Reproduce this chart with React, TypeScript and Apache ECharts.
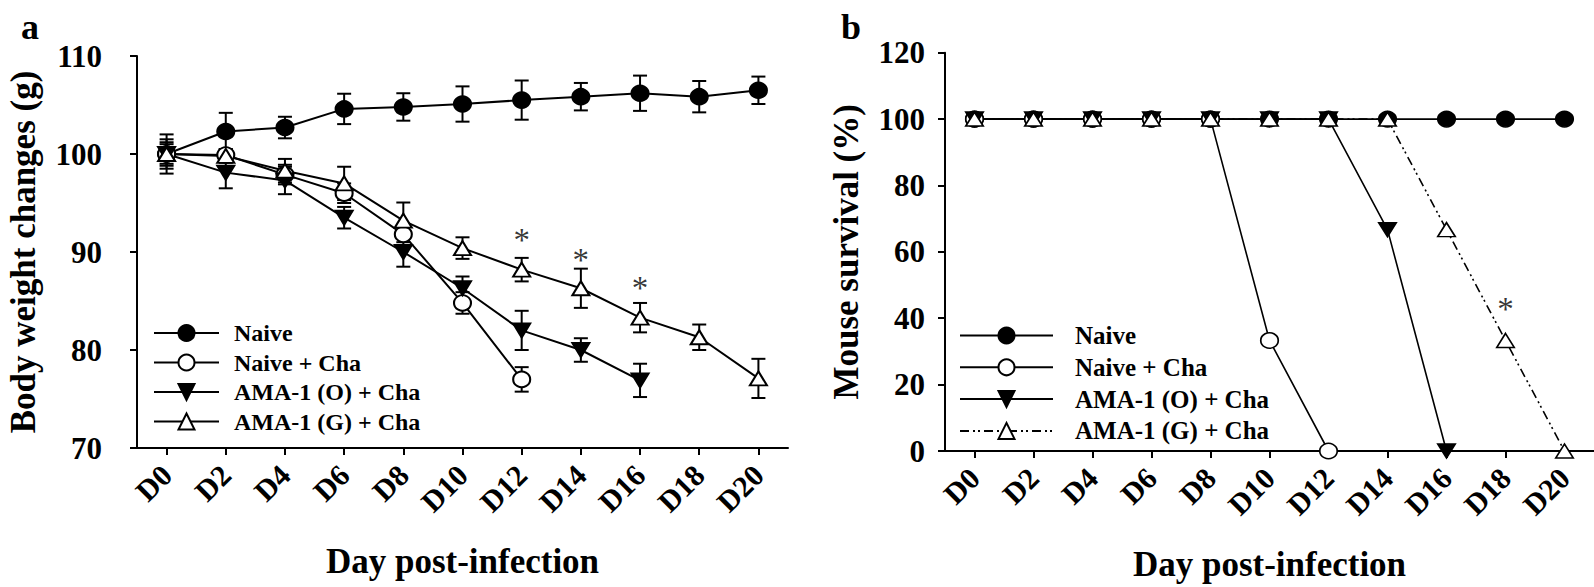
import React, { useEffect, useRef } from "react";
import * as echarts from "echarts";

const days = ["D0", "D2", "D4", "D6", "D8", "D10", "D12", "D14", "D16", "D18", "D20"];
const seriesNames = ["Naive", "Naive + Cha", "AMA-1 (O) + Cha", "AMA-1 (G) + Cha"];

// Panel a: body weight (mean) and error (SE)
const weightNaive = [100, 102.3, 102.7, 104.6, 104.8, 105.1, 105.5, 105.85, 106.2, 105.85, 106.5];
const errNaive = [2.0, 1.9, 1.1, 1.55, 1.4, 1.8, 2.0, 1.4, 1.8, 1.6, 1.4];
const weightNaiveCha = [100, 99.9, 97.9, 96.0, 91.8, 84.8, 77.0, null, null, null, null];
const errNaiveCha = [1.5, 0.6, 1.0, 1.0, 0.8, 1.1, 1.25, null, null, null, null];
const weightAmaO = [100, 98.1, 97.3, 93.5, 90.0, 86.3, 82.0, 80.0, 76.9, null, null];
const errAmaO = [1.0, 1.6, 1.4, 1.1, 1.5, 1.2, 2.0, 1.2, 1.7, null, null];
const weightAmaG = [100, 99.8, 98.3, 97.0, 93.2, 90.4, 88.2, 86.3, 83.3, 81.3, 77.1];
const errAmaG = [1.2, 0.7, 1.2, 1.7, 1.85, 1.1, 1.2, 2.0, 1.5, 1.3, 2.0];
const starsA = [["D12", 91.9], ["D14", 89.9], ["D16", 87.0]];

// Panel b: survival (%)
const survNaive = [100, 100, 100, 100, 100, 100, 100, 100, 100, 100, 100];
const survNaiveCha = [100, 100, 100, 100, 100, 33.3, 0, null, null, null, null];
const survAmaO = [100, 100, 100, 100, 100, 100, 100, 66.7, 0, null, null];
const survAmaG = [100, 100, 100, 100, 100, 100, 100, 100, 66.7, 33.3, 0];
const starsB = [["D18", 45]];

const weightTicks = { min: 70, max: 110, interval: 10 };
const survTicks = { min: 0, max: 120, interval: 20 };

const FONT = "'Times New Roman', 'Liberation Serif', serif";
const DOWN_TRI = "path://M0,0L20,0L10,16Z";

const symA = [
  { symbol: "circle", size: [17, 15.5], fill: "#000" },
  { symbol: "circle", size: [17, 15.5], fill: "#fff" },
  { symbol: DOWN_TRI, size: [17, 14], fill: "#000" },
  { symbol: "triangle", size: [17, 14], fill: "#fff" },
];

export default function App() {
  const ref = useRef<HTMLDivElement>(null);
  useEffect(() => {
    if (!ref.current) return;
    const chart = echarts.init(ref.current, undefined, { renderer: "svg" });

    const means = [weightNaive, weightNaiveCha, weightAmaO, weightAmaG];
    const errs = [errNaive, errNaiveCha, errAmaO, errAmaG];
    const survs = [survNaive, survNaiveCha, survAmaO, survAmaG];

    const errRender = (params: any, api: any) => {
      const x = api.value(0);
      const lo = api.coord([x, api.value(1)]);
      const hi = api.coord([x, api.value(2)]);
      const w = 7;
      const st = { stroke: "#000", lineWidth: 2 };
      return {
        type: "group",
        children: [
          { type: "line", shape: { x1: lo[0], y1: lo[1], x2: hi[0], y2: hi[1] }, style: st },
          { type: "line", shape: { x1: lo[0] - w, y1: lo[1], x2: lo[0] + w, y2: lo[1] }, style: st },
          { type: "line", shape: { x1: hi[0] - w, y1: hi[1], x2: hi[0] + w, y2: hi[1] }, style: st },
        ],
      };
    };

    const starLabel = {
      show: true,
      formatter: "*",
      position: "inside",
      fontFamily: FONT,
      fontSize: 33,
      color: "#000",
      offset: [0, 7],
    };

    const series: any[] = [];
    means.forEach((m, i) => {
      const e = errs[i];
      const errData: any[] = [];
      m.forEach((v, k) => {
        if (v != null && e[k] != null) errData.push([k, v - (e[k] as number), v + (e[k] as number)]);
      });
      series.push({
        type: "custom",
        name: "err" + i,
        xAxisIndex: 0,
        yAxisIndex: 0,
        renderItem: errRender,
        encode: { x: 0, y: [1, 2] },
        data: errData,
        silent: true,
      });
      series.push({
        type: "line",
        name: "a:" + seriesNames[i],
        xAxisIndex: 0,
        yAxisIndex: 0,
        data: m,
        symbol: symA[i].symbol,
        symbolSize: symA[i].size,
        showAllSymbol: true,
        clip: false,
        lineStyle: { color: "#000", width: 2 },
        itemStyle: { color: symA[i].fill, borderColor: "#000", borderWidth: 2, opacity: 1 },
      });
    });
    series.push({
      type: "scatter",
      name: "starsA",
      xAxisIndex: 0,
      yAxisIndex: 0,
      data: starsA,
      symbolSize: 1,
      itemStyle: { color: "rgba(0,0,0,0)" },
      label: starLabel,
      silent: true,
    });

    const dashB = [undefined, undefined, undefined, [9, 4, 2, 3, 2, 4]];
    survs.forEach((m, i) => {
      series.push({
        type: "line",
        name: "b:" + seriesNames[i],
        xAxisIndex: 1,
        yAxisIndex: 1,
        data: m,
        symbol: symA[i].symbol,
        symbolSize: i === 2 || i === 3 ? [17.5, 14] : [17.5, 15.5],
        showAllSymbol: true,
        clip: false,
        lineStyle: { color: "#000", width: 1.6, type: (dashB[i] as any) || "solid" },
        itemStyle: { color: symA[i].fill, borderColor: "#000", borderWidth: 1.6, opacity: 1 },
      });
    });
    series.push({
      type: "scatter",
      name: "starsB",
      xAxisIndex: 1,
      yAxisIndex: 1,
      data: starsB,
      symbolSize: 1,
      itemStyle: { color: "rgba(0,0,0,0)" },
      label: starLabel,
      silent: true,
    });

    const axisLine = { show: true, lineStyle: { color: "#000", width: 2 } };
    const axisTick = { show: true, inside: false, length: 7, lineStyle: { color: "#000", width: 2 } };
    const labelStyle = { fontFamily: FONT, fontWeight: "bold" as const, fontSize: 30, color: "#000" };
    const yLabelStyle = { fontFamily: FONT, fontWeight: "bold" as const, fontSize: 31, color: "#000" };
    const nameStyle = { fontFamily: FONT, fontWeight: "bold" as const, fontSize: 35, color: "#000" };

    const xAxisBase = (gridIndex: number) => ({
      type: "category",
      gridIndex,
      data: days,
      boundaryGap: true,
      axisLine,
      axisTick: { ...axisTick, alignWithLabel: true, interval: 0 },
      axisLabel: { ...labelStyle, rotate: 45, interval: 0, margin: 22 },
      splitLine: { show: false },
      name: "Day post-infection",
      nameLocation: "middle",
      nameGap: 96,
      nameTextStyle: nameStyle,
    });

    const legendText = (fs: number, padLeft: number) => ({
      fontFamily: FONT,
      fontWeight: "bold" as const,
      fontSize: fs,
      color: "#000",
      lineHeight: 24,
      padding: [0, 0, 0, padLeft],
    });

    const option: any = {
      animation: false,
      backgroundColor: "#fff",
      title: [
        { text: "a", left: 21, top: 9, padding: 0, textStyle: { fontFamily: FONT, fontWeight: "bold", fontSize: 36, color: "#000" } },
        { text: "b", left: 841, top: 9, padding: 0, textStyle: { fontFamily: FONT, fontWeight: "bold", fontSize: 36, color: "#000" } },
      ],
      grid: [
        { left: 137, top: 56, width: 651, height: 392, containLabel: false },
        { left: 945, top: 52.7, width: 649, height: 398.3, containLabel: false },
      ],
      legend: [
        {
          orient: "vertical",
          left: 153,
          top: 321,
          padding: 0,
          itemWidth: 65,
          itemHeight: 20,
          itemGap: 5.5,
          selectedMode: false,
          data: seriesNames.map((n) => "a:" + n),
          formatter: (n: string) => n.slice(2),
          textStyle: legendText(24, 10),
        },
        {
          orient: "vertical",
          left: 959,
          top: 323,
          padding: 0,
          itemWidth: 93,
          itemHeight: 20,
          itemGap: 6.8,
          selectedMode: false,
          data: seriesNames.map((n) => "b:" + n),
          formatter: (n: string) => n.slice(2),
          textStyle: legendText(25, 17),
        },
      ],
      xAxis: [xAxisBase(0), xAxisBase(1)],
      yAxis: [
        {
          type: "value",
          gridIndex: 0,
          ...weightTicks,
          axisLine,
          axisTick,
          axisLabel: { ...yLabelStyle, margin: 35 },
          splitLine: { show: false },
          name: "Body weight changes (g)",
          nameLocation: "middle",
          nameGap: 96,
          nameTextStyle: nameStyle,
        },
        {
          type: "value",
          gridIndex: 1,
          ...survTicks,
          axisLine,
          axisTick,
          axisLabel: { ...yLabelStyle, margin: 20 },
          splitLine: { show: false },
          name: "Mouse survival (%)",
          nameLocation: "middle",
          nameGap: 81,
          nameTextStyle: nameStyle,
        },
      ],
      series,
    };
    chart.setOption(option);
    return () => chart.dispose();
  }, []);
  return (
    <div
      ref={ref}
      style={{ position: "fixed", left: 0, top: 0, width: 1594, height: 587, background: "#fff" }}
    />
  );
}
